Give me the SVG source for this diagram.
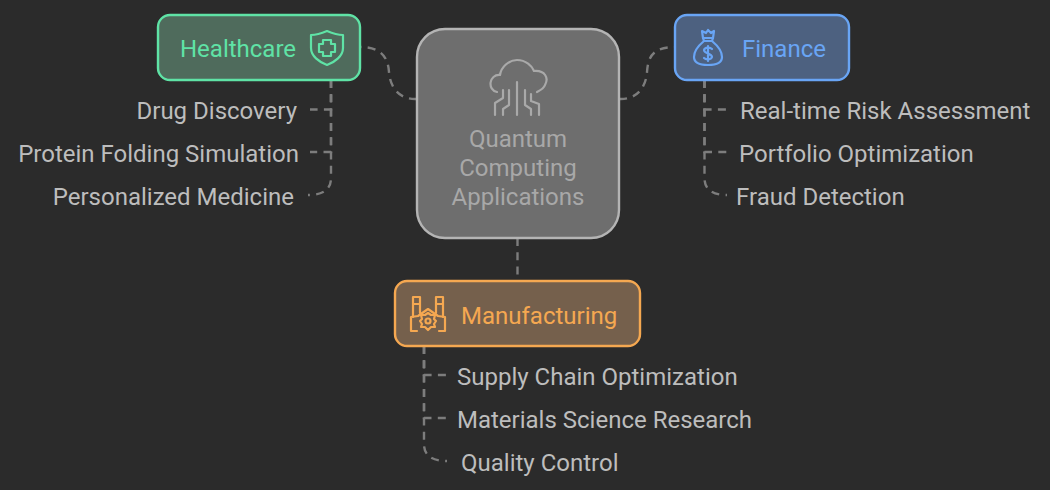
<svg xmlns="http://www.w3.org/2000/svg" width="1050" height="490" viewBox="0 0 1050 490">
<style>
text{font-family:Roboto,"Liberation Sans",sans-serif;font-size:24px}
.l{fill:#bdbdbd}
.c{fill:none;stroke:#7d7d7d;stroke-width:2.4;stroke-dasharray:8 6.3}
.i{fill:none;stroke-width:2.2;stroke-linejoin:round;stroke-linecap:round}
</style>
<rect width="1050" height="490" fill="#2b2b2b"/>
<g id="connectors">
<path class="c" d="M417 99C400 100 390 88 389 72C388 58 382 47 360 47"/>
<path class="c" d="M619 99C636 100 646 88 647 72C648 58 652 47 675 47"/>
<path class="c" d="M517.500 238V281"/>
<path class="c" d="M331 80V109.500H310"/>
<path class="c" d="M331 80V152H310"/>
<path class="c" d="M331 80V178Q331 195 308 195"/>
<path class="c" d="M704.500 80V109.500H727"/>
<path class="c" d="M704.500 80V152H727"/>
<path class="c" d="M704.500 80V178Q704.500 195 727 195"/>
<path class="c" d="M424 346V375H447"/>
<path class="c" d="M424 346V418H447"/>
<path class="c" d="M424 346V444Q424 461 447 461"/>
</g>
<g id="center">
<rect x="417" y="29" width="202" height="209" rx="28" fill="#6e6e6e" stroke="#b4b4b4" stroke-width="2.400"/>
<g class="i" stroke="#a9a9a9">
<path d="M497 92C487 90 489 74 500 75C501 67 509 60 517 60C526 60 532 66 534 71C545 70 549 78 545 85C544 88 541 90 537 92"/>
<path d="M517 82V115"/>
<path d="M509 90V105L503 109V115"/>
<path d="M503 90V98L495 103V115"/>
<path d="M525 90V105L531 109V115"/>
<path d="M531 94V101L539 104V115"/>
</g>
<text x="518" y="147" text-anchor="middle" fill="#a8a8a8">Quantum</text>
<text x="518" y="176" text-anchor="middle" fill="#a8a8a8">Computing</text>
<text x="518" y="205" text-anchor="middle" fill="#a8a8a8">Applications</text>
</g>
<g id="healthcare">
<rect x="158" y="15" width="202" height="65" rx="12" fill="#4f6b5c" stroke="#5fe3a6" stroke-width="2.400"/>
<text x="180" y="57" fill="#5fe3a6">Healthcare</text>
<g class="i" stroke="#5fe3a6">
<path d="M327 31C320 34 316 35 311 35V48C311 56 319 62 327 65C335 62 343 56 343 48V35C338 35 334 34 327 31Z"/>
<path d="M323 40H331V44H335V52H331V56H323V52H319V44H323Z"/>
</g>
</g>
<g id="finance">
<rect x="675" y="15" width="174" height="65" rx="12" fill="#4d6180" stroke="#69a5f5" stroke-width="2.400"/>
<text x="742" y="57" fill="#69a5f5">Finance</text>
<g class="i" stroke="#69a5f5">
<path d="M703 38L702 31L706 33L708 30L711 33L714 31L713 38"/>
<path d="M703 38H713L712 41H704Z"/>
<path d="M704 41C698 46 694 52 694 57C694 62 699 65 708 65C717 65 722 62 722 57C722 52 718 46 712 41"/>
<path d="M712 49C710 47 705 47 704 50C704 54 712 53 712 57C711 60 706 60 704 58M708 46V61"/>
</g>
</g>
<g id="manufacturing">
<rect x="395" y="281" width="245" height="65" rx="12" fill="#75604c" stroke="#f5a851" stroke-width="2.400"/>
<text x="461" y="324" fill="#f5a851">Manufacturing</text>
<g class="i" stroke="#f5a851">
<path d="M413 317V297H420V313M413 304H420"/>
<path d="M436 313V297H443V317M436 304H443"/>
<path d="M411 317L418 316L428 309L438 316L445 317V331H439M411 317V331H417"/>
<circle cx="428" cy="321" r="2.500"/>
<path d="M428 313L431 315L435 315L434 319L436 321L434 324L435 327L431 327L428 330L425 327L421 327L422 324L420 321L422 319L421 315L425 315Z"/>
</g>
</g>
<g id="healthcare-items">
<text class="l" x="297" y="118.500" text-anchor="end">Drug Discovery</text>
<text class="l" x="299" y="161.500" text-anchor="end">Protein Folding Simulation</text>
<text class="l" x="294" y="204.500" text-anchor="end">Personalized Medicine</text>
</g>
<g id="finance-items">
<text class="l" x="740" y="118.500">Real-time Risk Assessment</text>
<text class="l" x="739" y="161.500">Portfolio Optimization</text>
<text class="l" x="736" y="204.500">Fraud Detection</text>
</g>
<g id="manufacturing-items">
<text class="l" x="457" y="384.500">Supply Chain Optimization</text>
<text class="l" x="457" y="427.500">Materials Science Research</text>
<text class="l" x="461" y="470.500">Quality Control</text>
</g>
</svg>
